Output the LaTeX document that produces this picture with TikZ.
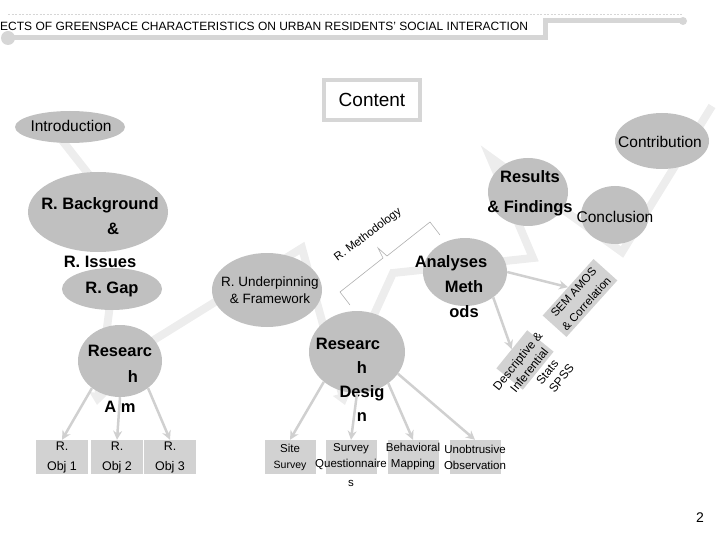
\documentclass[tikz,border=0pt]{standalone}
\usepackage{fontspec}
\setmainfont{Liberation Sans}
\usetikzlibrary{shapes.geometric,arrows.meta}
\definecolor{bubblegray}{RGB}{192,192,192}
\definecolor{boxgray}{RGB}{210,210,210}
\definecolor{arrowgray}{RGB}{208,208,208}
\definecolor{trackgray}{RGB}{237,237,237}
\definecolor{framegray}{RGB}{214,214,214}
\definecolor{bracegray}{RGB}{175,175,175}

\newcommand{\fs}[2]{\fontsize{#1}{#2}\selectfont}
\newcommand{\nw}[1]{\makebox[0pt]{#1}}

\begin{document}
\begin{tikzpicture}[x=1pt,y=-1pt,
  bubble/.style={ellipse, fill=bubblegray, inner sep=0pt},
  heavy/.style={font=\fs{16.5}{25}\bfseries, align=center, inner sep=0pt},
  light/.style={align=center, inner sep=0pt},
  objbox/.style={fill=boxgray, minimum width=52, minimum height=34, inner sep=0pt, align=center},
  tiltbox/.style={fill=boxgray, inner sep=0pt, align=center},
  linkarrow/.style={draw=arrowgray, line width=2.5, -{Stealth[length=9pt,width=9pt]}},
  track/.style={draw=trackgray, line width=8, line join=miter},
  trackend/.style={track, -{Triangle[length=12pt,width=18pt]}},
]

\useasboundingbox (0,0) rectangle (720,540);

% Title bar
\draw[framegray, line width=0.6, dash pattern=on 2pt off 1.5pt] (8,14) -- (683,14);
\draw[framegray, line width=5] (8,38) -- (545,38) -- (545,21) -- (683,21);
\fill[framegray] (8,38) circle[radius=7];
\fill[framegray] (683,21) circle[radius=4];
\node[anchor=west, inner sep=0pt, font=\fs{12}{14}] (title) at (0,26)
  {ECTS OF GREENSPACE CHARACTERISTICS ON URBAN RESIDENTS' SOCIAL INTERACTION};

% Background track
\draw[track] (50,125) -- (90,176);
\draw[trackend] (112,289) -- (97,405);
\draw[trackend] (120,361) -- (302,248) -- (345,405);
\draw[track] (357,352) -- (393,273) -- (533,258) -- (490,157) -- (622,252) -- (712,106);

% Content
\node[draw=framegray, line width=4, fill=white, minimum width=96, minimum height=40,
  inner sep=0pt, font=\fs{19}{22}] (content) at (372,100) {Content};

% Bubbles
\node[bubble, minimum width=110, minimum height=32] (intro) at (70,127) {};
\node[bubble, minimum width=140, minimum height=80] (bg) at (98,212) {};
\node[bubble, minimum width=100, minimum height=42] (gap) at (112,289) {};
\node[bubble, minimum width=84, minimum height=72] (aim) at (120,361) {};
\node[bubble, minimum width=110, minimum height=74] (under) at (267,290) {};
\node[bubble, minimum width=96, minimum height=82] (design) at (357,352) {};
\node[bubble, minimum width=84, minimum height=68] (anal) at (465,272) {};
\node[bubble, minimum width=80, minimum height=68] (result) at (528,192) {};
\node[bubble, minimum width=68, minimum height=58] (concl) at (615,215) {};
\node[bubble, minimum width=94, minimum height=56] (contrib) at (662,141) {};

% Bubble texts
\node[light, font=\fs{15.5}{18}] (intro-t) at (71,126) {Introduction};
\node[heavy] (bg-t) at (100,233) {R. Background\\\hspace*{26pt}\&\\[8pt]R. Issues};
\node[heavy] (gap-t) at (112,289) {R. Gap};
\node[heavy] (aim-t) at (120,379) {Researc\\[1pt]\hspace*{26pt}h\\[5pt]A m};
\node[light, font=\fs{13.5}{17}] (under-t) at (270,290) {R. Underpinning\\\& Framework};
\node[heavy, font=\fs{16.5}{24}\bfseries] (design-t) at (362,380) {Researc\hspace*{28pt}\\h\\Desig\\n};
\node[heavy] (anal-t) at (464,287) {Analyses\hspace*{26pt}\\Meth\\ods};
\node[heavy] (result-t) at (530,193) {Results\\[5pt]\& Findings};
\node[light, font=\fs{15.5}{18}] (concl-t) at (615,217) {Conclusion};
\node[light, font=\fs{15.5}{18}] (contrib-t) at (660,142) {Contribution};

% Research objectives
\node[objbox, font=\fs{12.5}{20}] (obj1) at (62,457) {R.\\Obj 1};
\node[objbox, font=\fs{12.5}{20}] (obj2) at (117,457) {R.\\Obj 2};
\node[objbox, font=\fs{12.5}{20}] (obj3) at (170,457) {R.\\Obj 3};

% Data collection
\node[objbox, minimum width=51, font=\fs{11.5}{16}] (site) at (290,457) {Site\\{\fs{10.5}{16}Survey}};
\node[objbox, minimum width=51, font=\fs{11.5}{16}] (quest) at (351,457) {\nw{Survey}\\\nw{Questionnaire}};
\node[light, font=\fs{11.5}{16}] (quest-s) at (351,483) {s};
\node[objbox, minimum width=51, font=\fs{11.5}{16}] (behav) at (413,457) {\nw{Behavioral}\\\nw{Mapping}};
\node[objbox, minimum width=51, font=\fs{11.5}{16}] (unob) at (475,457) {\nw{Unobtrusive}\\\nw{Observation}};

% Analyses outputs
\node[tiltbox, rotate=48, minimum width=76, minimum height=32, font=\fs{11.5}{17}] (sem) at (580,298)
  {SEM AMOS\\\& Correlation};
\node[tiltbox, rotate=51, minimum width=49, minimum height=34] (desc) at (525,360) {};
\node[light, rotate=51, font=\fs{12}{15}] (desc-t) at (535,375)
  {Descriptive \&\\Inferential\\\hspace*{20pt}Stats\\\hspace*{28pt}SPSS};

% Methodology bracket
\draw[bracegray, line width=0.6] (350,305) -- (340,292) -- (383,258) -- (378,248)
  -- (387,256) -- (430,222) -- (440,235);
\node[light, rotate=37, font=\fs{11.5}{13}] (method) at (368,235) {R. Methodology};

% Arrows
\draw[linkarrow] (aim.224) -- (obj1.north);
\draw[linkarrow] (aim.south) -- (obj2.north);
\draw[linkarrow] (aim.316) -- (obj3.north);
\draw[linkarrow] (design.222) -- (site.north);
\draw[linkarrow] (design.south) -- (quest.north);
\draw[linkarrow] (design.315) -- (behav.north);
\draw[linkarrow] (design.332) -- (unob.north);
\draw[linkarrow] (anal.east) -- (sem.north);
\draw[linkarrow] (anal.318) -- (desc.north);

% Page number
\node[light, font=\fs{14}{16}] (pgnum) at (700,518) {2};

\end{tikzpicture}
\end{document}
